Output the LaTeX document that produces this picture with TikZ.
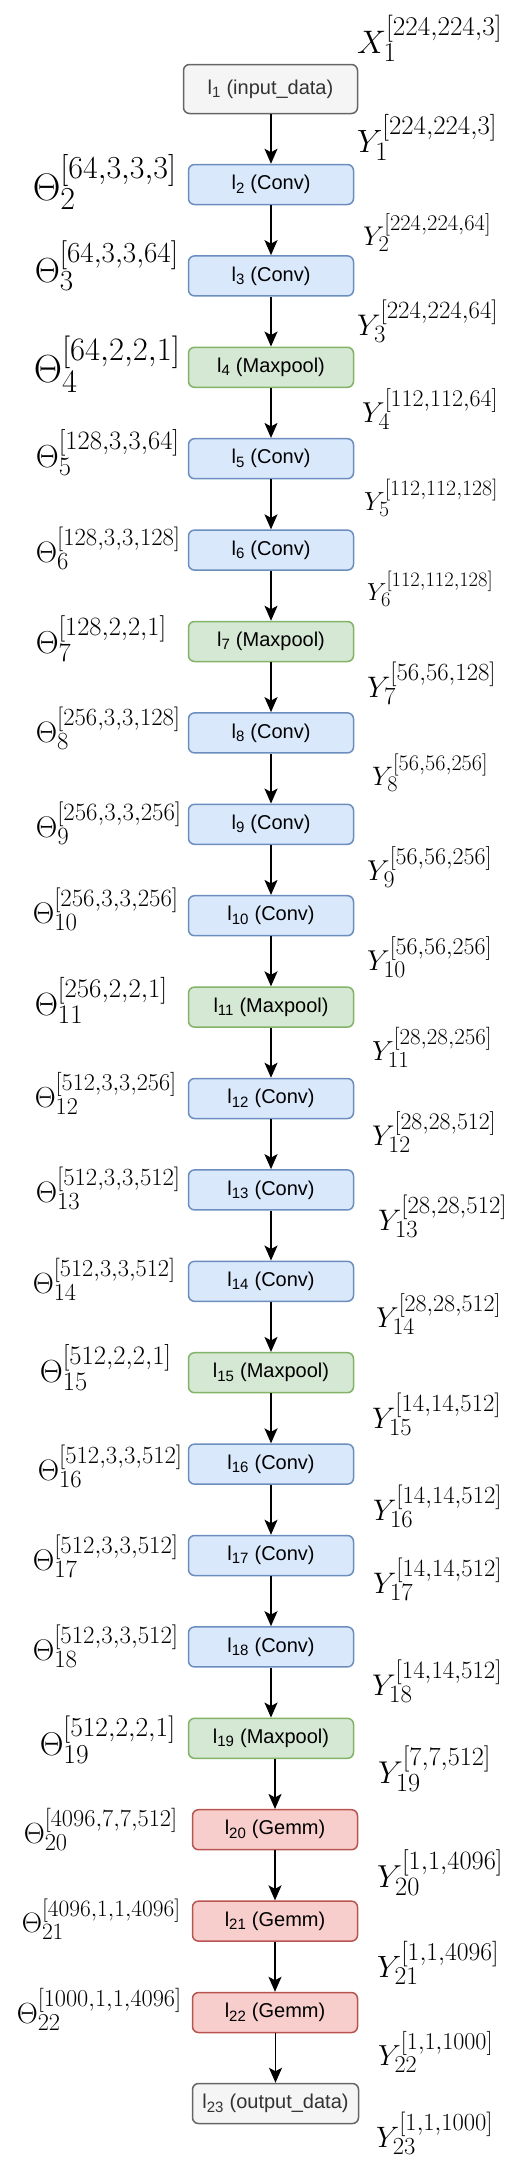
\documentclass[tikz,border=0pt]{standalone}
\usepackage[no-math]{fontspec}
\usepackage{graphicx}
\usetikzlibrary{arrows.meta}
\newfontfamily\boxfont{Liberation Sans}
\DeclareMathSizes{30}{30}{22.5}{18}
\DeclareMathSizes{20}{20}{15}{12}
\definecolor{fio}{HTML}{F5F5F5}\definecolor{dio}{HTML}{666666}\definecolor{tio}{HTML}{333333}
\definecolor{fconv}{HTML}{DAE8FC}\definecolor{dconv}{HTML}{6C8EBF}
\definecolor{fpool}{HTML}{D5E8D4}\definecolor{dpool}{HTML}{82B366}
\definecolor{fgemm}{HTML}{F8CECC}\definecolor{dgemm}{HTML}{B85450}
\newcommand\dimlab[4]{\resizebox{#1pt}{!}{$#2_{#3}^{[#4]}$}}

\begin{document}
\begin{tikzpicture}[x=1pt,y=-1pt,>={Stealth[length=15pt,width=13pt,inset=3.5pt]},
  box/.style={draw, rounded corners=6pt, line width=1.5pt, minimum width=165pt,
    minimum height=40pt, inner sep=0pt, font=\boxfont\fontsize{20}{24}\selectfont},
  lab/.style={inner sep=0pt, font=\fontsize{30}{36}\selectfont},
  thlab/.style={lab, anchor=base east},
  ylab/.style={lab, anchor=base west}]
  \useasboundingbox (0,0) rectangle (516,2168);

  % layers
  \node[box, fill=fio, draw=dio, text=tio, minimum width=174pt, minimum height=49pt] (l1) at (270.5,89) {l\textsubscript{1} (input\_data)};
  \foreach \i/\kind/\op in {2/conv/Conv, 3/conv/Conv, 4/pool/Maxpool, 5/conv/Conv, 6/conv/Conv,
      7/pool/Maxpool, 8/conv/Conv, 9/conv/Conv, 10/conv/Conv, 11/pool/Maxpool, 12/conv/Conv,
      13/conv/Conv, 14/conv/Conv, 15/pool/Maxpool, 16/conv/Conv, 17/conv/Conv, 18/conv/Conv,
      19/pool/Maxpool, 20/gemm/Gemm, 21/gemm/Gemm, 22/gemm/Gemm}
    \pgfmathsetmacro{\cx}{\i>19 ? 275 : 271}
    \node[box, fill=f\kind, draw=d\kind] (l\i) at (\cx,{184.5+91.4*(\i-2)}) {l\textsubscript{\i} (\op)};
  \node[box, fill=fio, draw=dio, text=tio, minimum width=166pt] (l23) at (275.5,2103.5) {l\textsubscript{23} (output\_data)};

  \foreach \i [remember=\i as \p (initially 1)] in {2,...,23}
    \draw[->, line width=1.6pt] (l\p.south -| l\i.north) -- (l\i.north);

  % weights
  \foreach \k/\x/\y/\w/\s in {2/177/200/144/{64,3,3,3}, 3/179/282/144/{64,3,3,64},
      4/181/382/147/{64,2,2,1}, 5/180/467/144/{128,3,3,64}, 6/181/562/145/{128,3,3,128},
      7/167/653/131/{128,2,2,1}, 8/181/742/145/{256,3,3,128}, 9/182/837/146/{256,3,3,256},
      10/179/923/146/{256,3,3,256}, 11/168/1015/133/{256,2,2,1}, 12/177/1107/142/{512,3,3,256},
      13/181/1202/145/{512,3,3,512}, 14/176/1293/143/{512,3,3,512}, 15/172/1382/132/{512,2,2,1},
      16/183/1480/145/{512,3,3,512}, 17/179/1570/146/{512,3,3,512}, 18/179/1660/146/{512,3,3,512},
      19/176/1755/136/{512,2,2,1}, 20/178/1843/154/{4096,7,7,512}, 21/181/1932/159/{4096,1,1,4096},
      22/182/2023/165/{1000,1,1,4096}}
    \node[thlab] (th\k) at (\x,\y) {\dimlab{\w}{\Theta}{\k}{\s}};

  % outputs
  \node[ylab] (x1) at (357,53) {\dimlab{145}{X}{1}{224,224,3}};
  \foreach \k/\x/\y/\w/\s in {1/357/152/140/{224,224,3}, 2/363/245/128/{224,224,64},
      3/357/335/141/{224,224,64}, 4/362/422/136/{112,112,64}, 5/364/510/134/{112,112,128},
      6/367/600/126/{112,112,128}, 7/367/697/129/{56,56,128}, 8/372/785/116/{56,56,256},
      9/367/880/125/{56,56,256}, 10/367/970/125/{56,56,256}, 11/372/1060/120/{28,28,256},
      12/372/1145/124/{28,28,512}, 13/378/1230/129/{28,28,512}, 14/376/1327/125/{28,28,512},
      15/372/1428/129/{14,14,512}, 16/373/1520/129/{14,14,512}, 17/373/1593/129/{14,14,512},
      18/372/1695/130/{14,14,512}, 19/378/1783/113/{7,7,512}, 20/377/1887/126/{1,1,4096},
      21/377/1977/122/{1,1,4096}, 22/378/2065/115/{1,1,1000}, 23/376/2147/117/{1,1,1000}}
    \node[ylab] (y\k) at (\x,\y) {\dimlab{\w}{Y}{\k}{\s}};
\end{tikzpicture}
\end{document}
